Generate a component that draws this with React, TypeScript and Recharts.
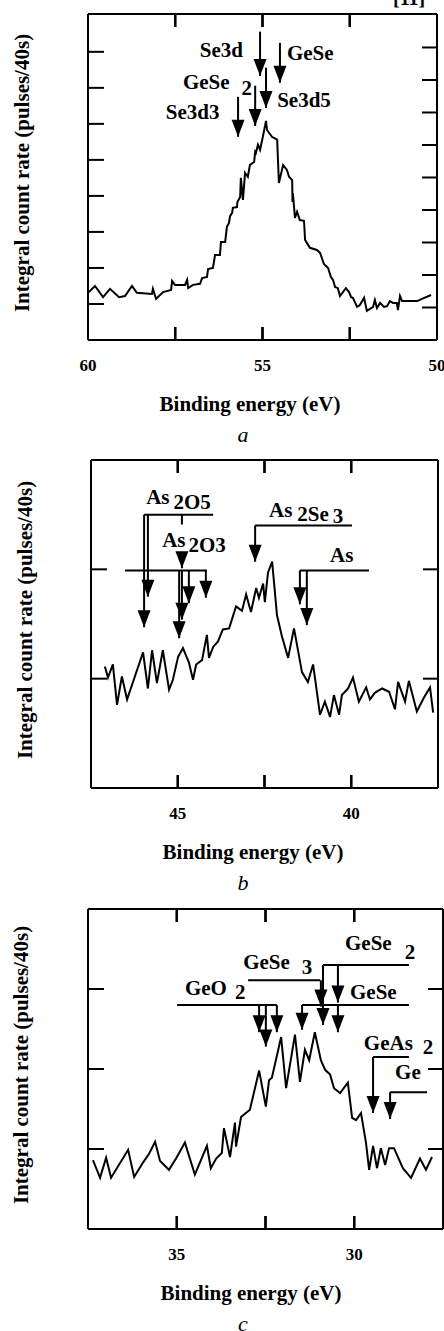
import React from 'react';
import { LineChart, Line, XAxis, YAxis, ReferenceLine, ReferenceDot } from 'recharts';

const FONT = '"Liberation Serif", "Times New Roman", serif';

// ---- panel a : Se 3d region ----
const energyA = [
  60.0, 59.8, 59.57, 59.37, 59.11, 58.94, 58.74, 58.6, 58.17, 58.14,
  58.05, 57.85, 57.62, 57.59, 57.51, 57.22, 57.16, 57.13, 56.99, 56.79,
  56.73, 56.59, 56.56, 56.42, 56.36, 56.22, 56.19, 56.07, 56.02, 55.96,
  55.93, 55.87, 55.85, 55.73, 55.72, 55.64, 55.62, 55.56, 55.5, 55.42,
  55.36, 55.24, 55.21, 55.19, 55.13, 55.07, 54.99, 54.9, 54.87, 54.73,
  54.58, 54.53, 54.41, 54.3, 54.24, 54.15, 54.14, 54.13, 54.07, 54.01,
  53.93, 53.81, 53.78, 53.64, 53.44, 53.35, 53.24, 53.12, 53.04, 52.98,
  52.92, 52.84, 52.78, 52.61, 52.52, 52.46, 52.41, 52.29, 52.21, 52.09,
  52.01, 51.83, 51.78, 51.72, 51.63, 51.52, 51.43, 51.35, 51.26, 51.15,
  51.12, 51.06, 51.0, 50.57, 50.43, 50.17,
];
const countA = [
  1.31, 1.5, 1.19, 1.42, 1.19, 1.22, 1.5, 1.31, 1.28, 1.42,
  1.14, 1.33, 1.39, 1.64, 1.53, 1.53, 1.67, 1.44, 1.53, 1.56,
  1.72, 1.75, 1.97, 2.0, 2.36, 2.36, 2.72, 2.72, 3.14, 3.25,
  3.44, 3.53, 3.67, 3.69, 3.83, 3.97, 4.5, 3.89, 4.64, 4.53,
  4.86, 4.94, 5.22, 5.19, 5.42, 5.28, 5.64, 6.08, 5.83, 5.64,
  5.56, 4.36, 4.86, 4.72, 4.53, 4.44, 3.83, 4.08, 3.39, 3.56,
  3.33, 3.31, 2.78, 2.56, 2.5, 2.42, 2.11, 2.0, 1.75, 1.67,
  1.47, 1.44, 1.22, 1.44, 1.33, 1.19, 1.17, 0.92, 0.97, 1.17,
  0.81, 0.92, 1.11, 0.89, 1.03, 0.92, 0.94, 1.08, 1.03, 1.03,
  0.83, 1.22, 1.08, 1.08, 1.14, 1.25,
];
const ticksEA = [60, 57.5, 55, 52.5, 50];
const labeledEA = [60, 55, 50];
const ticksLeftA = [1, 2, 3, 4, 5, 6, 7, 8];
const ticksRightA = [1, 2, 3, 4, 5, 6, 7, 8, 9];
const arrowsA = [
  { e: 55.07, from: 8.56, to: 7.33 },
  { e: 54.5, from: 8.25, to: 7.14 },
  { e: 54.9, from: 7.56, to: 6.44 },
  { e: 55.21, from: 7.06, to: 5.94 },
  { e: 55.7, from: 6.75, to: 5.64 },
];
const tagsA = [
  { e: 55.56, v: 7.86, anchor: 'end', parts: [{ t: 'Se3d' }] },
  { e: 54.3, v: 7.78, parts: [{ t: 'GeSe' }] },
  { e: 57.28, v: 6.97, parts: [{ t: 'GeSe' }, { t: '2', dx: 12, dy: 6 }] },
  { e: 54.58, v: 6.47, parts: [{ t: 'Se3d5' }] },
  { e: 57.77, v: 6.14, parts: [{ t: 'Se3d3' }] },
];

// ---- panel b : As 3d region ----
const energyB = [
  47.1, 47.01, 46.87, 46.75, 46.61, 46.46, 46.29, 46.0, 45.86, 45.74,
  45.6, 45.43, 45.25, 45.14, 44.99, 44.85, 44.68, 44.56, 44.47, 44.3,
  44.16, 44.1, 43.98, 43.84, 43.7, 43.52, 43.32, 43.15, 43.03, 42.89,
  42.74, 42.66, 42.54, 42.49, 42.4, 42.28, 42.14, 42.0, 41.82, 41.65,
  41.42, 41.25, 41.1, 40.9, 40.76, 40.61, 40.5, 40.35, 40.27, 40.09,
  39.95, 39.78, 39.57, 39.46, 39.32, 39.11, 38.91, 38.74, 38.65, 38.45,
  38.34, 38.11, 37.9, 37.73, 37.64,
];
const countB = [
  1.11, 1.01, 1.13, 0.76, 1.02, 0.81, 0.97, 1.24, 0.91, 1.26,
  0.96, 1.26, 0.9, 0.99, 1.2, 1.28, 1.15, 0.99, 1.13, 1.17,
  1.4, 1.19, 1.29, 1.34, 1.45, 1.46, 1.66, 1.62, 1.77, 1.61,
  1.83, 1.74, 1.87, 1.7, 1.97, 2.07, 1.58, 1.39, 1.19, 1.46,
  1.06, 0.97, 1.13, 0.67, 0.79, 0.65, 0.85, 0.67, 0.85, 0.91,
  1.01, 0.79, 0.92, 0.81, 0.87, 0.91, 0.88, 0.72, 0.97, 0.79,
  0.98, 0.7, 0.83, 0.92, 0.69,
];
const ticksEB = [47.5, 45, 42.5, 40, 37.5];
const labeledEB = [45, 40];
const ticksYB = [1, 2];
const bracketsB = [
  { v: 2.5, e0: 45.97, e1: 43.98 },
  { v: 1.99, e0: 46.52, e1: 44.16 },
  { v: 2.4, e0: 42.77, e1: 39.98 },
  { v: 1.99, e0: 41.48, e1: 39.49 },
];
const leadersB = [{ e: 44.88, from: 2.5, to: 2.41 }];
const arrowsB = [
  { e: 45.97, from: 2.5, to: 1.47 },
  { e: 45.86, from: 2.5, to: 1.75 },
  { e: 44.88, from: 2.16, to: 2.01 },
  { e: 44.96, from: 1.99, to: 1.37 },
  { e: 44.88, from: 1.99, to: 1.54 },
  { e: 44.68, from: 1.99, to: 1.69 },
  { e: 44.19, from: 1.99, to: 1.74 },
  { e: 42.77, from: 2.4, to: 2.07 },
  { e: 41.48, from: 1.99, to: 1.68 },
  { e: 41.28, from: 1.99, to: 1.49 },
];
const tagsB = [
  { e: 45.91, v: 2.6, parts: [{ t: 'As' }, { t: '2O5', dx: 4, dy: 5 }] },
  { e: 45.45, v: 2.2, parts: [{ t: 'As' }, { t: '2O3', dx: 3, dy: 5 }] },
  { e: 42.37, v: 2.48, parts: [{ t: 'As' }, { t: '2Se', dx: 5, dy: 4 }, { t: '3', dx: 4, dy: 2 }] },
  { e: 40.61, v: 2.07, parts: [{ t: 'As' }] },
];

// ---- panel c : Ge 3d region ----
const energyC = [
  37.36, 37.16, 36.99, 36.85, 36.37, 36.2, 35.95, 35.78, 35.61, 35.47,
  35.22, 35.02, 34.77, 34.49, 34.15, 34.04, 33.89, 33.73, 33.67, 33.5,
  33.36, 33.33, 33.19, 32.94, 32.68, 32.49, 32.4, 32.32, 32.06, 31.92,
  31.67, 31.53, 31.39, 31.27, 31.11, 30.94, 30.82, 30.68, 30.57, 30.4,
  30.18, 30.06, 29.95, 29.81, 29.67, 29.58, 29.47, 29.36, 29.25, 29.13,
  29.02, 28.88, 28.63, 28.4, 28.15, 27.98, 27.81,
];
const countC = [
  0.86, 0.64, 0.89, 0.64, 0.99, 0.65, 0.83, 0.94, 1.09, 0.85,
  0.74, 0.88, 1.08, 0.68, 1.04, 0.76, 0.88, 0.95, 1.26, 0.9,
  1.33, 1.03, 1.4, 1.49, 1.98, 1.53, 1.86, 1.89, 2.4, 1.76,
  2.43, 1.84, 2.24, 2.11, 2.46, 2.11, 1.99, 1.93, 1.76, 1.7,
  1.83, 1.39, 1.36, 1.45, 1.08, 0.74, 1.04, 0.76, 1.01, 0.8,
  1.01, 1.01, 0.76, 0.64, 0.88, 0.74, 0.9,
];
const ticksEC = [37.5, 35, 32.5, 30, 27.5];
const labeledEC = [35, 30];
const ticksYC = [1, 2, 3];
const bracketsC = [
  { v: 2.8, e0: 34.99, e1: 32.18 },
  { v: 3.11, e0: 32.99, e1: 30.96 },
  { v: 3.3, e0: 30.88, e1: 28.46 },
  { v: 2.8, e0: 31.47, e1: 28.46 },
  { v: 2.15, e0: 29.47, e1: 28.46 },
  { v: 1.71, e0: 28.99, e1: 27.95 },
];
const arrowsC = [
  { e: 32.68, from: 2.8, to: 2.46 },
  { e: 32.49, from: 2.8, to: 2.28 },
  { e: 32.18, from: 2.8, to: 2.46 },
  { e: 30.94, from: 3.11, to: 2.78 },
  { e: 30.88, from: 3.3, to: 2.55 },
  { e: 30.46, from: 3.3, to: 2.83 },
  { e: 31.47, from: 2.8, to: 2.49 },
  { e: 30.46, from: 2.8, to: 2.46 },
  { e: 29.47, from: 2.15, to: 1.45 },
  { e: 28.99, from: 1.71, to: 1.375 },
];
const tagsC = [
  { e: 34.77, v: 2.93, parts: [{ t: 'GeO' }, { t: '2', dx: 8, dy: 4 }] },
  { e: 33.13, v: 3.25, parts: [{ t: 'GeSe' }, { t: '3', dx: 12, dy: 5 }] },
  { e: 30.26, v: 3.49, parts: [{ t: 'GeSe' }, { t: '2', dx: 13, dy: 9 }] },
  { e: 30.12, v: 2.88, parts: [{ t: 'GeSe' }] },
  { e: 29.73, v: 2.24, parts: [{ t: 'GeAs' }, { t: '2', dx: 10, dy: 4 }] },
  { e: 28.85, v: 1.875, parts: [{ t: 'Ge' }] },
];

const headShape = (p: any) => (
  <polygon
    points={`${p.cx - 6.5},${p.cy - 17} ${p.cx + 6.5},${p.cy - 17} ${p.cx},${p.cy}`}
    fill="#000"
  />
);

const tagShape = (tag: any) => (p: any) => (
  <text
    x={p.cx}
    y={p.cy}
    fontFamily={FONT}
    fontWeight="bold"
    fontSize={21}
    fill="#000"
    textAnchor={tag.anchor || 'start'}
  >
    {tag.parts.map((pt: any, i: number) => (
      <tspan key={i} dx={pt.dx || 0} dy={pt.dy || 0}>
        {pt.t}
      </tspan>
    ))}
  </text>
);

const axisLine = { stroke: '#000', strokeWidth: 2 };

function Panel(props: any) {
  const {
    top, height, plotTop, plotH, left, rightGap, energy, count, eMin, eMax, xTicks, labeled,
    yMax, yTicks, rMax, rTicks, arrows = [], brackets = [], leaders = [], tags = [],
    yTitleX, titleX, letterX, letter, corner,
  } = props;
  const data = energy.map((e: number, i: number) => ({ e, v: count[i] }));
  const bottomH = height - plotTop - plotH;
  const plotBottom = plotTop + plotH;
  const plotRight = 444 - rightGap;
  const plotW = plotRight - left;

  const tickVals: number[] = [];
  for (let i = 0; i < xTicks.length; i++) {
    const t = Number(xTicks[i]);
    if (t > eMin + 1e-6 && t < eMax - 1e-6) tickVals.push(t);
  }
  const ePos = (t: number) => left + ((eMax - t) / (eMax - eMin)) * plotW;

  // filled bars for the inward energy ticks on bottom and top frame edges
  const xMarks = (keyBase: string) =>
    tickVals.map((t) => (
      <g key={`${keyBase}${t}`}>
        <rect x={ePos(t) - 1} y={plotBottom - 13} width={2} height={13} fill="#000" />
        <rect x={ePos(t) - 1} y={plotTop} width={2} height={13} fill="#000" />
      </g>
    ));

  const bottomTick = (p: any) => {
    const v = p.payload?.value;
    if (!labeled.includes(v)) return <g />;
    return (
      <text x={p.x} y={plotBottom + 31} textAnchor="middle" fontFamily={FONT} fontWeight="bold" fontSize={17} fill="#000">
        {v}
      </text>
    );
  };
  const leftTick = (p: any) => {
    const y = p.payload?.coordinate ?? p.y;
    return <line x1={left} x2={left + 16} y1={y} y2={y} stroke="#000" strokeWidth={2} />;
  };
  const rightTick = (p: any) => {
    const y = p.payload?.coordinate ?? p.y;
    return <line x1={plotRight} x2={plotRight - 15} y1={y} y2={y} stroke="#000" strokeWidth={2} />;
  };

  const xTitle = () => (
    <g>
      {xMarks('b')}
      <text x={titleX} y={plotBottom + 71} textAnchor="middle" fontFamily={FONT} fontWeight="bold" fontSize={21} fill="#000">
        Binding energy (eV)
      </text>
      <text x={letterX} y={plotBottom + 102} textAnchor="middle" fontFamily={FONT} fontStyle="italic" fontSize={22} fill="#000">
        {letter}
      </text>
    </g>
  );
  const yTitle = () => {
    const cy = plotTop + plotH / 2 - 4;
    return (
      <g>
        {xMarks('l')}
        <text
          x={yTitleX}
          y={cy}
          transform={`rotate(-90 ${yTitleX} ${cy})`}
          textAnchor="middle"
          fontFamily={FONT}
          fontWeight="bold"
          fontSize={21}
          fill="#000"
        >
          Integral count rate (pulses/40s)
        </text>
      </g>
    );
  };
  const cornerLabel = () => (
    <g>
      {xMarks('t')}
      {corner ? (
        <text x={393} y={5} fontFamily={FONT} fontWeight="bold" fontSize={20} fill="#000">
          {corner}
        </text>
      ) : null}
    </g>
  );

  return (
    <div style={{ position: 'absolute', left: 0, top, width: 444, height }}>
      <LineChart
        width={444}
        height={height}
        data={data}
        margin={{ top: plotTop - 1, right: rightGap - 1, bottom: 0, left: 0 }}
      >
        <XAxis
          xAxisId="b"
          dataKey="e"
          type="number"
          domain={[eMin, eMax]}
          reversed
          allowDataOverflow
          ticks={xTicks.slice()}
          interval={0}
          height={bottomH}
          axisLine={axisLine}
          tickLine={false}
          tickSize={0}
          tick={bottomTick}
          label={{ content: xTitle }}
        />
        <XAxis
          xAxisId="t"
          orientation="top"
          type="number"
          domain={[eMin, eMax]}
          reversed
          allowDataOverflow
          height={1}
          axisLine={axisLine}
          tickLine={false}
          tick={false}
          label={{ content: cornerLabel }}
        />
        <YAxis
          yAxisId="l"
          type="number"
          domain={[0, yMax]}
          allowDataOverflow
          ticks={yTicks.slice()}
          interval={0}
          width={left}
          axisLine={axisLine}
          tickLine={false}
          tickSize={0}
          tick={leftTick}
          label={{ content: yTitle }}
        />
        <YAxis
          yAxisId="r"
          orientation="right"
          type="number"
          domain={[0, rMax]}
          allowDataOverflow
          ticks={rTicks.slice()}
          interval={0}
          width={1}
          axisLine={axisLine}
          tickLine={false}
          tickSize={0}
          tick={rightTick}
        />
        <Line
          xAxisId="b"
          yAxisId="l"
          dataKey="v"
          type="linear"
          stroke="#000"
          strokeWidth={2}
          dot={false}
          activeDot={false}
          isAnimationActive={false}
        />
        {brackets.map((b: any, i: number) => (
          <ReferenceLine
            key={`br${i}`}
            xAxisId="b"
            yAxisId="l"
            ifOverflow="visible"
            segment={[{ x: b.e0, y: b.v }, { x: b.e1, y: b.v }]}
            stroke="#000"
            strokeWidth={2}
          />
        ))}
        {leaders.map((a: any, i: number) => (
          <ReferenceLine
            key={`ld${i}`}
            xAxisId="b"
            yAxisId="l"
            ifOverflow="visible"
            segment={[{ x: a.e, y: a.from }, { x: a.e, y: a.to }]}
            stroke="#000"
            strokeWidth={2}
          />
        ))}
        {arrows.map((a: any, i: number) => (
          <ReferenceLine
            key={`sh${i}`}
            xAxisId="b"
            yAxisId="l"
            ifOverflow="visible"
            segment={[{ x: a.e, y: a.from }, { x: a.e, y: a.to }]}
            stroke="#000"
            strokeWidth={2}
          />
        ))}
        {arrows.map((a: any, i: number) => (
          <ReferenceDot key={`hd${i}`} xAxisId="b" yAxisId="l" x={a.e} y={a.to} ifOverflow="visible" shape={headShape} />
        ))}
        {tags.map((t: any, i: number) => (
          <ReferenceDot key={`tg${i}`} xAxisId="b" yAxisId="l" x={t.e} y={t.v} ifOverflow="visible" shape={tagShape(t)} />
        ))}
      </LineChart>
    </div>
  );
}

export default function App() {
  return (
    <div style={{ position: 'absolute', left: 0, top: 0, width: 444, height: 1331, background: '#fff' }}>
      <Panel
        top={0}
        height={446}
        plotTop={14}
        plotH={326}
        left={88}
        rightGap={7}
        energy={energyA}
        count={countA}
        eMin={50}
        eMax={60}
        xTicks={ticksEA}
        labeled={labeledEA}
        yMax={9.05}
        yTicks={ticksLeftA}
        rMax={10.03}
        rTicks={ticksRightA}
        arrows={arrowsA}
        tags={tagsA}
        yTitleX={29}
        titleX={250}
        letterX={243}
        letter="a"
        corner="[11]"
      />
      <Panel
        top={446}
        height={450}
        plotTop={14}
        plotH={328}
        left={91}
        rightGap={6}
        energy={energyB}
        count={countB}
        eMin={37.5}
        eMax={47.5}
        xTicks={ticksEB}
        labeled={labeledEB}
        yMax={3}
        yTicks={ticksYB}
        rMax={3}
        rTicks={ticksYB}
        arrows={arrowsB}
        brackets={bracketsB}
        leaders={leadersB}
        tags={tagsB}
        yTitleX={32}
        titleX={253}
        letterX={243}
        letter="b"
      />
      <Panel
        top={896}
        height={435}
        plotTop={13}
        plotH={320}
        left={88}
        rightGap={1}
        energy={energyC}
        count={countC}
        eMin={27.5}
        eMax={37.5}
        xTicks={ticksEC}
        labeled={labeledEC}
        yMax={4}
        yTicks={ticksYC}
        rMax={4}
        rTicks={ticksYC}
        arrows={arrowsC}
        brackets={bracketsC}
        tags={tagsC}
        yTitleX={28}
        titleX={251}
        letterX={243}
        letter="c"
      />
    </div>
  );
}
